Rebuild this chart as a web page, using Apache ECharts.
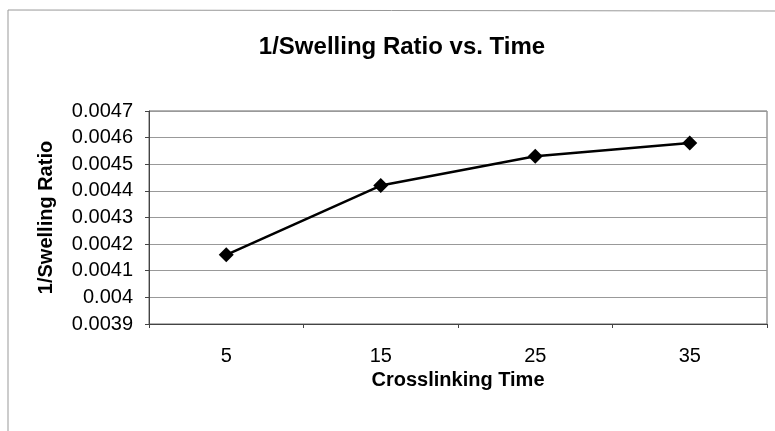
<!DOCTYPE html>
<html>
<head>
<meta charset="utf-8">
<script src="https://cdn.jsdelivr.net/npm/echarts@6/dist/echarts.min.js"></script>
<style>
  html, body { margin: 0; padding: 0; background: #fff; }
  #chart { width: 775px; height: 431px; }
</style>
</head>
<body>
<div id="chart"></div>
<script>
  // crosslinking time (categories) and 1/swelling ratio values
  const crosslinkTimes = ['5', '15', '25', '35']
  const inverseSwelling = [0.00416, 0.00442, 0.00453, 0.00458]
  const yMin = 0.0039
  const yMax = 0.0047
  const yStep = 0.0001

  const font = "'Liberation Sans', Arial, sans-serif"
  let myChart = echarts.init(document.getElementById('chart'))

  myChart.setOption({
    animation: false,
    backgroundColor: '#fff',
    title: {
      text: '1/Swelling Ratio vs. Time',
      left: 397,
      top: 30,
      textAlign: 'center',
      textStyle: { fontFamily: font, fontSize: 24, fontWeight: 'bold', color: '#000' }
    },
    // outer chart border (left + top only visible)
    graphic: [{
      type: 'polyline',
      shape: { points: [[8, 431], [8, 10], [775, 11]] },
      style: { stroke: '#999', lineWidth: 1, fill: null }
    }],
    grid: {
      left: 149,
      right: 8,
      top: 111,
      bottom: 107,
      show: true,
      borderColor: '#666',
      borderWidth: 1
    },
    xAxis: {
      type: 'category',
      data: crosslinkTimes,
      boundaryGap: true,
      name: 'Crosslinking Time',
      nameLocation: 'middle',
      nameGap: 46,
      nameTextStyle: { fontFamily: font, fontSize: 20, fontWeight: 'bold', color: '#000' },
      axisLine: { lineStyle: { color: '#444', width: 1 } },
      axisTick: { show: true, length: 4, lineStyle: { color: '#444' } },
      axisLabel: { margin: 22, fontFamily: font, fontSize: 20, color: '#000' },
      splitLine: { show: false }
    },
    yAxis: {
      type: 'value',
      min: yMin,
      max: yMax,
      interval: yStep,
      name: '1/Swelling Ratio',
      nameLocation: 'middle',
      nameRotate: 90,
      nameGap: 93,
      nameTextStyle: { fontFamily: font, fontSize: 20, fontWeight: 'bold', color: '#000' },
      axisLine: { show: true, lineStyle: { color: '#444', width: 1 } },
      axisTick: { show: true, length: 4, lineStyle: { color: '#444' } },
      axisLabel: {
        margin: 16,
        fontFamily: font,
        fontSize: 20,
        color: '#000',
        formatter: v => String(parseFloat(v.toFixed(4)))
      },
      splitLine: { show: true, lineStyle: { color: '#999', width: 1 } }
    },
    series: [{
      type: 'line',
      data: inverseSwelling,
      symbol: 'diamond',
      symbolSize: 15,
      itemStyle: { color: '#000' },
      lineStyle: { color: '#000', width: 2.5 }
    }]
  })
</script>
</body>
</html>
